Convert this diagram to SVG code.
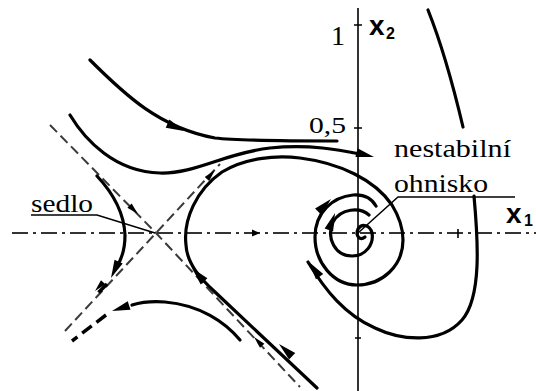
<svg xmlns="http://www.w3.org/2000/svg" xmlns:xlink="http://www.w3.org/1999/xlink" width="536" height="391" viewBox="0 0 536 391">
<style>
.traj{fill:none;stroke:#000;stroke-width:3.2;stroke-linecap:round;stroke-linejoin:round}
.sep{fill:none;stroke:#3a3a3a;stroke-width:2;stroke-dasharray:10 5}
.tdash{fill:none;stroke:#000;stroke-width:3.5;stroke-dasharray:12 6}
.axis{fill:none;stroke:#000;stroke-width:1.6}
.axd{fill:none;stroke:#333;stroke-width:2;stroke-dasharray:16 5 3 5}
.lead{fill:none;stroke:#000;stroke-width:1.5}
.ah{fill:#000}
</style>
<defs>
<path id="ah" d="M0,0 L-18,-4.5 L-18,4.5 Z"/>
<path id="ahs" d="M0,0 L-12,-3 L-12,3 Z"/>
</defs>
<rect width="536" height="391" fill="#fff"/>
<g id="axes">
<path class="axis" d="M358,8 V391"/>
<path class="axis" d="M354,25 H362 M354,128 H362 M355,338 H361"/>
<path class="axd" d="M12,233 H536"/>
<path class="axis" d="M458,229 V238"/>
<path class="ah" d="M260,233 L252,229.5 L252,236.5 Z"/>
</g>
<g id="separatrices">
<path class="sep" d="M50,125 L156,233 L300,387"/>
<path class="sep" d="M65,331 L156,233 L220,164"/>
<use href="#ahs" class="ah" transform="translate(138,214) rotate(45)"/>
<use href="#ahs" class="ah" transform="translate(215,170) rotate(-48)"/>
<use href="#ahs" class="ah" transform="translate(254,337) rotate(227)"/>
<use href="#ahs" class="ah" transform="translate(95,291) rotate(133)"/>
</g>
<g id="connectors">
<path class="traj" d="M428,10 Q446,55 463,127"/>
<path class="traj" d="M90,60 C125,95 160,128 215,138 C240,141 290,141 337,141"/>
<use href="#ah" class="ah" transform="translate(184,131) rotate(24)"/>
<path class="traj" d="M70,115 C85,140 115,172 160,173 C195,174 225,153 270,148 C310,144 340,150 360,154"/>
<use href="#ah" class="ah" transform="translate(374,157) rotate(14)"/>
<path class="traj" d="M97,176 C112,192 124,212 125,235 C125,250 121,260 117,266"/>
<use href="#ah" class="ah" transform="translate(111,278) rotate(115)"/>
<path class="tdash" d="M107,284 L95,296"/>
<path class="traj" d="M240,340 C225,322 200,305 165,302 C152,301 142,302 132,305"/>
<use href="#ah" class="ah" transform="translate(112,311) rotate(162)"/>
<path class="tdash" d="M106,315 L72,341"/>
<path class="traj" d="M317,388 L215,292 C203,281 187,265 186,245 C183,220 196,190 222,172 C245,158 275,155 300,158 C340,163 375,180 392,205 C400,218 403,228 403,240 C403,266 382,285 357,285 C333,285 315,262 315,237 C315,212 333,197 353,195 C365,194 372,199 376,206"/>
<use href="#ah" class="ah" transform="translate(279,344) rotate(223)"/>
<use href="#ah" class="ah" transform="translate(192,268) rotate(228)"/>
<use href="#ah" class="ah" transform="translate(331,199) rotate(-45)"/>
<path class="traj" d="M369,215 C360,207 341,208 333,222 C326,238 335,256 352,256 C366,256 374,244 372,233"/>
<use href="#ah" class="ah" transform="translate(335,213) rotate(-70)"/>
<path class="traj" d="M372,233 C370,225 362,223 358,229 C355,236 360,241 365,237"/>
<path class="traj" d="M308,262 C325,290 345,315 375,328 C400,340 440,345 462,320 C482,297 478,240 474,196"/>
<use href="#ah" class="ah" transform="translate(309,262) rotate(234)"/>
</g>
<g id="saddle">
<text x="31" y="212" font-family="'Liberation Serif', 'Times New Roman', serif" font-size="26" textLength="62" lengthAdjust="spacingAndGlyphs">sedlo</text>
<path class="lead" d="M31,215 H97 L155,233"/>
</g>
<g id="focus">
<text x="394" y="157" font-family="'Liberation Serif', 'Times New Roman', serif" font-size="26" textLength="117" lengthAdjust="spacingAndGlyphs">nestabilní</text>
<text x="394" y="192" font-family="'Liberation Serif', 'Times New Roman', serif" font-size="26" textLength="94" lengthAdjust="spacingAndGlyphs">ohnisko</text>
<path class="lead" d="M358,233 L398,197 H515"/>
</g>
<g id="labels">
<text x="345" y="45" font-family="'Liberation Serif', 'Times New Roman', serif" font-size="28" text-anchor="end">1</text>
<text x="309" y="133" font-family="'Liberation Serif', 'Times New Roman', serif" font-size="23" textLength="37" lengthAdjust="spacingAndGlyphs">0,5</text>
<text x="369" y="35" font-family="'Liberation Sans', Arial, sans-serif" font-weight="bold" font-size="28">x</text>
<text x="386" y="39" font-family="'Liberation Sans', Arial, sans-serif" font-weight="bold" font-size="16">2</text>
<text x="506" y="223" font-family="'Liberation Sans', Arial, sans-serif" font-weight="bold" font-size="28">x</text>
<text x="524" y="226" font-family="'Liberation Sans', Arial, sans-serif" font-weight="bold" font-size="16">1</text>
</g>
</svg>
